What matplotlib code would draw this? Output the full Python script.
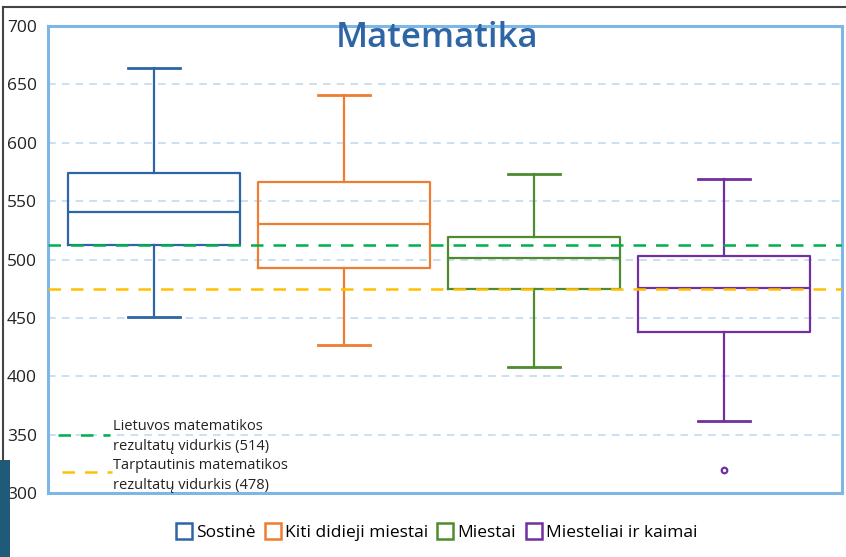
import numpy as np
import matplotlib.pyplot as plt
from matplotlib.lines import Line2D
from matplotlib.patches import Rectangle

# data
groups = ["Sostinė", "Kiti didieji miestai", "Miestai", "Miesteliai ir kaimai"]
whislo = [451, 427, 408, 362]
q1 = [512, 493, 475, 438]
med = [541, 530, 501, 476]
q3 = [574, 566, 519, 503]
whishi = [664, 641, 573, 569]
fliers = [[], [], [], [320]]
colors = ["#2E65A5", "#ED7D31", "#4E8A2E", "#7030A0"]

lt_avg = 512      # drawn position of Lithuanian mean line
intl_avg = 475    # drawn position of international mean line
lt_label = "Lietuvos matematikos\nrezultatų vidurkis (514)"
intl_label = "Tarptautinis matematikos\nrezultatų vidurkis (478)"

yticks = [300, 350, 400, 450, 500, 550, 600, 650, 700]

plt.rcParams['font.family'] = ['Open Sans', 'DejaVu Sans']

fig = plt.figure(figsize=(8.46, 5.57), dpi=100)
ax = fig.add_axes([48/846, 1-493/557, 794/846, 467/557])

# outer frame pieces (screenshot border)
fig.add_artist(Line2D([3/846, 1], [1-7/557, 1-7/557], color="#444444", lw=1.5))
fig.add_artist(Line2D([3/846, 3/846], [1-7/557, 1-460/557], color="#444444", lw=1.5))
fig.add_artist(Rectangle((0, 0), 10/846, 97/557, color="#1F5A78", lw=0))

stats = []
for i in range(len(groups)):
    stats.append(dict(label=groups[i], whislo=whislo[i], q1=q1[i], med=med[i],
                      q3=q3[i], whishi=whishi[i], fliers=fliers[i]))

pos = np.arange(1, len(groups) + 1)
for i, st in enumerate(stats):
    c = colors[i]
    ax.bxp([st], positions=[pos[i]], widths=0.905, capwidths=0.27,
           showfliers=True, manage_ticks=False,
           boxprops=dict(color=c, lw=1.6),
           medianprops=dict(color=c, lw=1.6),
           whiskerprops=dict(color=c, lw=1.6),
           capprops=dict(color=c, lw=2.0),
           flierprops=dict(marker='o', markersize=4, markerfacecolor='white',
                           markeredgecolor=c, markeredgewidth=1.6),
           zorder=3)

ax.axhline(lt_avg, color="#00B050", lw=1.8, ls=(0, (5, 4)), zorder=4)
ax.axhline(intl_avg, color="#FFC000", lw=1.8, ls=(0, (5, 4)), zorder=4)

ax.set_xlim(0.442, 4.621)
ax.set_ylim(300, 700)
ax.set_yticks(yticks)
ax.set_xticks([])
ax.tick_params(axis='y', length=0, pad=8, labelsize=12.5, labelcolor="#222222")
ax.yaxis.grid(True, color="#BDD7EE", ls=(0, (5, 4)), lw=1.1)
ax.set_axisbelow(True)
for s in ax.spines.values():
    s.set_color("#7EB6E6")
    s.set_linewidth(2.2)

fig.text(437/846, 1-38/557, "Matematika", ha='center', va='center',
         fontsize=25, fontweight='semibold', color="#2E65A5", zorder=6)

# inner legend for the mean lines (axes fraction coordinates)
ax.plot([0.0126, 0.078], [0.124, 0.124], transform=ax.transAxes,
        color="#00B050", lw=1.8, ls=(0, (5, 4)), zorder=5)
ax.plot([0.0176, 0.0806], [0.045, 0.045], transform=ax.transAxes,
        color="#FFC000", lw=1.8, ls=(0, (5, 4)), zorder=5)
ax.text(0.0819, 0.122, lt_label, transform=ax.transAxes, ha='left', va='center',
        fontsize=10.5, linespacing=1.45, color="#222222", zorder=5)
ax.text(0.0819, 0.0375, intl_label, transform=ax.transAxes, ha='left', va='center',
        fontsize=10.5, linespacing=1.45, color="#222222", zorder=5)

# bottom legend
h_grp = [Line2D([], [], marker='s', ls='none', markersize=11, markerfacecolor='white',
                markeredgecolor=c, markeredgewidth=1.8) for c in colors]
fig.legend(h_grp, groups, loc='center', bbox_to_anchor=(437/846, 1-533/557),
           ncol=4, frameon=False, fontsize=12.5, handlelength=0.8,
           handletextpad=0.3, columnspacing=0.6)

fig.savefig("out.png", dpi=100)
